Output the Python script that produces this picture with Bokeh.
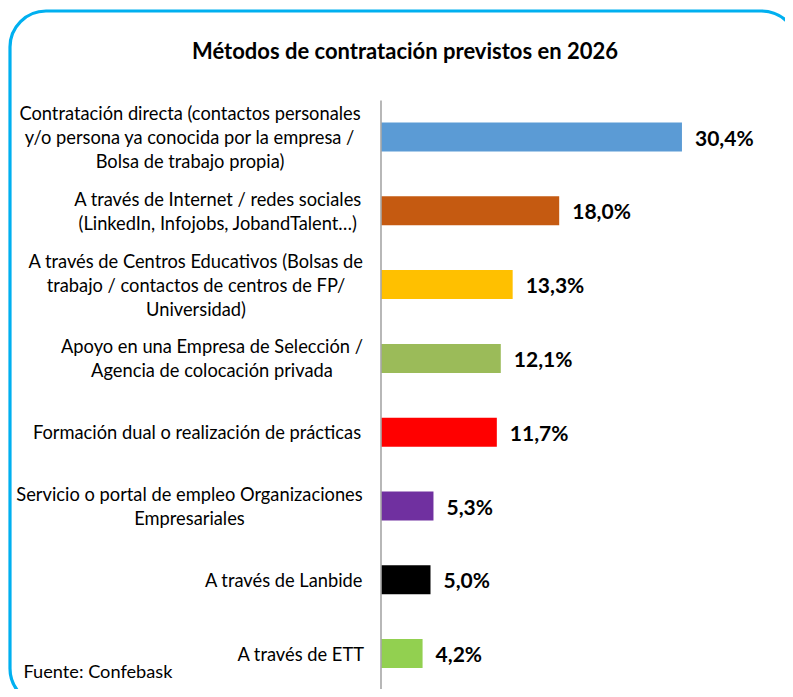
import numpy as np
from bokeh.plotting import figure
from bokeh.models import Range1d, BoxAnnotation
from bokeh.core.properties import value
from bokeh.embed import file_html
from bokeh.resources import INLINE

# ---- data ----
title = "Métodos de contratación previstos en 2026"
source_note = "Fuente: Confebask"
categories = [
    "Contratación directa (contactos personales\ny/o persona ya conocida por la empresa /\nBolsa de trabajo propia)",
    "A través de Internet / redes sociales\n(LinkedIn, Infojobs, JobandTalent…)",
    "A través de Centros Educativos (Bolsas de\ntrabajo / contactos de centros de FP/\nUniversidad)",
    "Apoyo en una Empresa de Selección /\nAgencia de colocación privada",
    "Formación dual o realización de prácticas",
    "Servicio o portal de empleo Organizaciones\nEmpresariales",
    "A través de Lanbide",
    "A través de ETT",
]
values = [30.4, 18.0, 13.3, 12.1, 11.7, 5.3, 5.0, 4.2]
colors = ["#5B9BD5", "#C55A11", "#FFC000", "#9BBB59", "#FF0000", "#7030A0", "#000000", "#92D050"]

# ---- layout ----
W, H = 785, 689
PX_X = 9.9      # px per percentage point
PX_Y = 73.8     # px per category
ZERO_PX = 380.5 # x of the value axis
ROW0_PX = 136.5 # y of first category centre

def xd(px):
    return (px - ZERO_PX) / PX_X

def yd(py):
    return (py - ROW0_PX) / PX_Y

# widest-line widths of the category labels (px), used to centre each block
label_w = [345, 289, 333, 301, 331, 346, 157, 123]
LABEL_RIGHT = 362

FONT = "Lato"

p = figure(width=W, height=H, output_backend="svg", toolbar_location=None,
           x_range=Range1d(xd(0), xd(W)), y_range=Range1d(yd(H), yd(0)),
           x_axis_type=None, y_axis_type=None, min_border=0)
p.grid.visible = False
p.outline_line_color = None
p.background_fill_color = "white"
p.border_fill_color = "white"

idx = np.arange(len(categories))

# bars
p.hbar(y=idx, left=0, right=values, height=0.393, fill_color=colors, line_color=None)

# value axis line
p.segment(x0=[0], x1=[0], y0=[yd(100)], y1=[yd(692)], line_color="#A6A6A6", line_width=1.6)

# bottom grey rule
p.segment(x0=[xd(25)], x1=[xd(786)], y0=[yd(692)], y1=[yd(692)], line_color="#D9D9D9", line_width=1)

# category labels (centred block, right-aligned at LABEL_RIGHT)
lab_x = [xd(LABEL_RIGHT - w / 2) for w in label_w]
p.text(x=lab_x, y=idx, text=categories, text_align="center", text_baseline="middle",
       text_font=value(FONT), text_font_size="18.3px", text_color="#000000",
       text_line_height=1.09)

# value labels
vlabels = [f"{v:.1f}".replace(".", ",") + "%" for v in values]
p.text(x=values, y=idx, text=vlabels, x_offset=13, text_align="left", text_baseline="middle",
       text_font=value(FONT), text_font_size="21px", text_font_style="bold", text_color="#000000")

# title
p.text(x=[xd(404.5)], y=[yd(50)], text=[title], text_align="center", text_baseline="middle",
       text_font=value(FONT), text_font_size="22px", text_font_style="bold", text_color="#000000")

# source
p.text(x=[xd(23)], y=[yd(670)], text=[source_note], text_align="left", text_baseline="middle",
       text_font=value(FONT), text_font_size="18.2px", text_color="#000000")

# rounded frame
p.add_layout(BoxAnnotation(left=xd(9.5), right=xd(797), top=yd(10.5), bottom=yd(704),
                           fill_alpha=0, line_color="#00B0F0", line_alpha=1.0, line_width=3.2,
                           border_radius=36))

open("out.html", "w").write(file_html(p, INLINE))
